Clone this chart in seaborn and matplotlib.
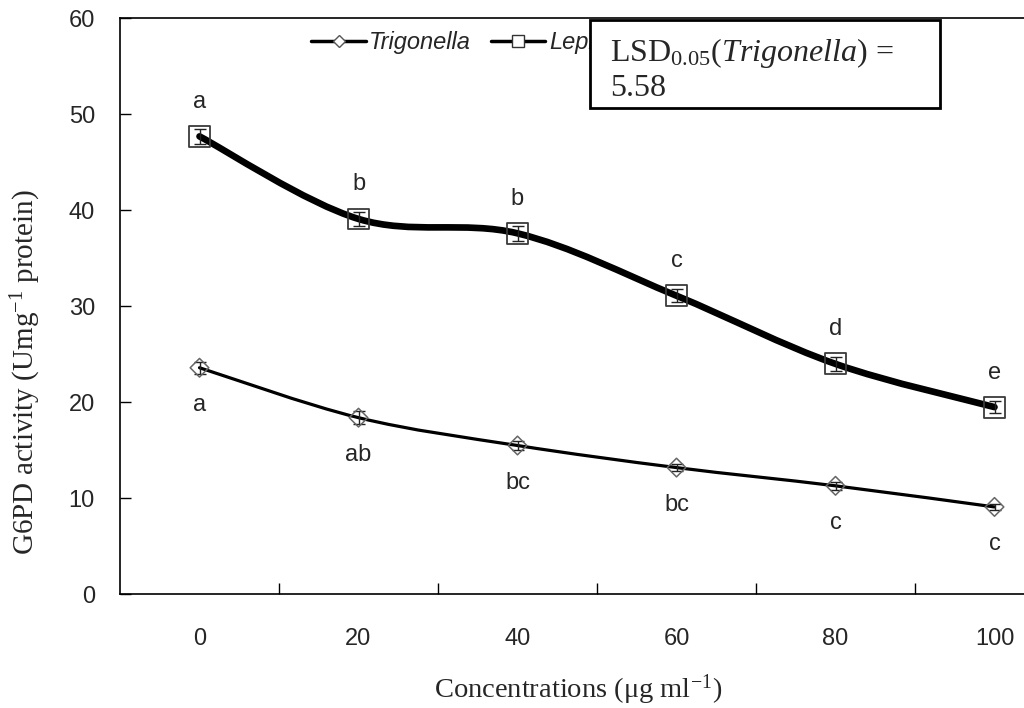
import numpy as np
import seaborn as sns
import matplotlib.pyplot as plt
from matplotlib.path import Path
from matplotlib.patches import PathPatch, Rectangle
from matplotlib.lines import Line2D

# data
concentrations = ["0", "20", "40", "60", "80", "100"]
trigonella = [23.6, 18.4, 15.5, 13.2, 11.3, 9.1]
trigonella_err = [0.6, 0.7, 0.5, 0.4, 0.4, 0.3]
trigonella_letters = ["a", "ab", "bc", "bc", "c", "c"]
lepidium = [47.7, 39.1, 37.6, 31.1, 24.0, 19.5]
lepidium_err = [0.8, 0.7, 0.8, 0.7, 0.7, 0.6]
lepidium_letters = ["a", "b", "b", "c", "d", "e"]

sns.set_theme(style="white")
plt.rcParams["font.family"] = ["Liberation Sans", "DejaVu Sans"]
plt.rcParams["mathtext.fontset"] = "custom"
plt.rcParams["mathtext.rm"] = "Liberation Serif"
plt.rcParams["mathtext.it"] = "Liberation Serif:italic"


def smooth_path(xs, ys):
    # Excel-style smoothed line (cubic Bezier through every point)
    pts = np.column_stack([xs, ys]).astype(float)
    verts = [pts[0]]
    codes = [Path.MOVETO]
    n = len(pts)
    for i in range(n - 1):
        p0 = pts[max(i - 1, 0)]
        p1 = pts[i]
        p2 = pts[i + 1]
        p3 = pts[min(i + 2, n - 1)]
        c1 = p1 + (p2 - p0) / 6.0
        c2 = p2 - (p3 - p1) / 6.0
        verts += [c1, c2, p2]
        codes += [Path.CURVE4] * 3
    return Path(verts, codes)


fig = plt.figure(figsize=(10.24, 7.08), dpi=100)
ax = fig.add_axes([120 / 1024, 113.7 / 708, 954 / 1024, 576 / 708])

x = np.arange(len(concentrations))

# smoothed curves
ax.add_patch(PathPatch(smooth_path(x, lepidium), fill=False, lw=4.8,
                       edgecolor="black", capstyle="round", zorder=3))
ax.add_patch(PathPatch(smooth_path(x, trigonella), fill=False, lw=2.3,
                       edgecolor="black", capstyle="round", zorder=3))

# markers
sns.scatterplot(x=x, y=lepidium, marker="s", s=225, facecolors="none",
                edgecolors="#3a3a3a", linewidth=1.3, ax=ax, zorder=5)
sns.scatterplot(x=x, y=trigonella, marker="D", s=90, facecolors="none",
                edgecolors="#666666", linewidth=1.1, ax=ax, zorder=5)

ax.errorbar(x, lepidium, yerr=lepidium_err, fmt="none", ecolor="#222222",
            elinewidth=1, capsize=4, zorder=4)
ax.errorbar(x, trigonella, yerr=trigonella_err, fmt="none", ecolor="#222222",
            elinewidth=1, capsize=4, zorder=4)

# significance letters
for xi, yi, lab in zip(x, lepidium, lepidium_letters):
    ax.text(xi, yi + 3.6, lab, ha="center", va="center", fontsize=17)
for xi, yi, lab in zip(x, trigonella, trigonella_letters):
    ax.text(xi, yi - 3.9, lab, ha="center", va="center", fontsize=17)

ax.set_xlim(-0.5, 5.5)
ax.set_ylim(0, 60)
ax.set_yticks(range(0, 61, 10))
ax.set_xticks(x)
ax.set_xticklabels(concentrations, fontsize=17)
ax.set_xticks(x[:-1] + 0.5, minor=True)
ax.tick_params(axis="x", which="major", length=0, pad=24)
ax.tick_params(axis="x", which="minor", direction="in", length=8, width=1,
               color="black", bottom=True)
ax.tick_params(axis="y", direction="in", length=8, width=1, color="black",
               left=True, labelsize=17, pad=18)

for side in ["left", "bottom", "top"]:
    ax.spines[side].set_color("black")
    ax.spines[side].set_linewidth(1.2)
ax.spines["right"].set_visible(False)

ax.set_xlabel("Concentrations (μg ml$^{-1}$)", family="Liberation Serif",
              fontsize=20.5)
ax.set_ylabel("G6PD activity (Umg$^{-1}$ protein)", family="Liberation Serif",
              fontsize=21)
ax.xaxis.set_label_coords(0.48, -0.135)
ax.yaxis.set_label_coords(-0.081, 0.385)

handles = [
    Line2D([], [], color="black", lw=2.5, marker="D", ms=6, mfc="white",
           mec="#555555", mew=1),
    Line2D([], [], color="black", lw=2.5, marker="s", ms=9, mfc="white",
           mec="#333333", mew=1),
]
leg = ax.legend(handles, ["Trigonella", "Lepidium"], ncol=2,
                loc="center left", bbox_to_anchor=(309 / 1024, 1 - 43 / 708),
                bbox_transform=fig.transFigure, frameon=False,
                prop={"family": "Liberation Sans", "style": "italic", "size": 17},
                handlelength=2.3, handletextpad=0.15, columnspacing=0.85,
                borderpad=0.1, borderaxespad=0)

# LSD box (drawn over the legend)
fig.add_artist(Rectangle((590 / 1024, 1 - 108 / 708), 350 / 1024, 88 / 708,
                         transform=fig.transFigure, facecolor="white",
                         edgecolor="black", linewidth=2, zorder=10))
fig.text(610 / 1024, 1 - 53 / 708, "LSD$_{0.05}$($\\mathit{Trigonella}$) =",
         family="Liberation Serif", fontsize=23, ha="left", va="center",
         zorder=11)
fig.text(610 / 1024, 1 - 88 / 708, "5.58",
         family="Liberation Serif", fontsize=23, ha="left", va="center",
         zorder=11)

fig.savefig("out.png", dpi=100)
